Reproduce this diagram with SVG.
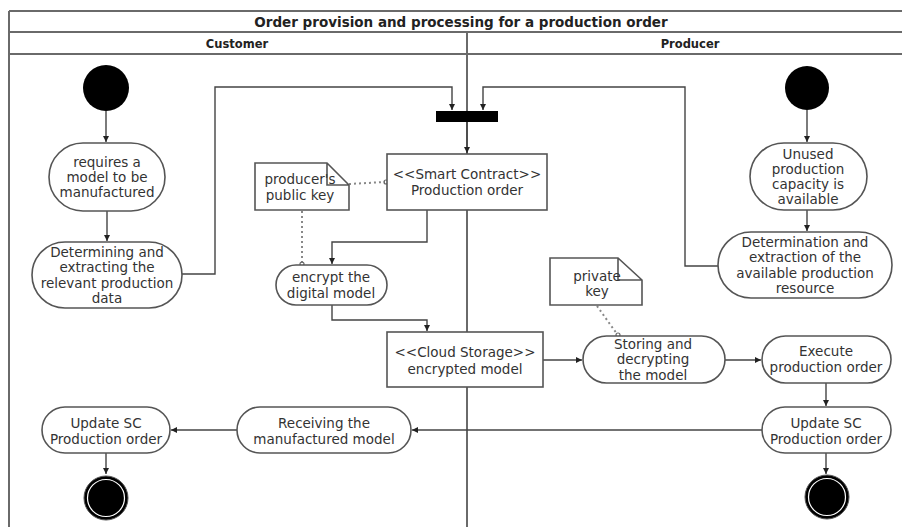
<svg xmlns="http://www.w3.org/2000/svg" width="902" height="527" viewBox="0 0 902 527">
<style>
.frame{fill:none;stroke:#6a6a6a;stroke-width:2}
.node{fill:#fff;stroke:#555;stroke-width:1.6}
.note{fill:#fff;stroke:#555;stroke-width:1.6;stroke-linejoin:miter}
.conn{fill:none;stroke:#444;stroke-width:1.4}
.dot{fill:none;stroke:#888;stroke-width:2;stroke-dasharray:2 3}
.t{font-family:"DejaVu Sans",Verdana,sans-serif;font-size:13.5px;fill:#333;text-anchor:middle}
.h{font-family:"DejaVu Sans",Verdana,sans-serif;font-weight:bold;fill:#222;text-anchor:middle}
</style>
<defs>
<marker id="arr" viewBox="0 0 8 8" refX="8" refY="4" markerWidth="6" markerHeight="6" orient="auto" markerUnits="userSpaceOnUse">
<path d="M0,0 L8,4 L0,8 z" fill="#222"/>
</marker>
</defs>
<rect width="902" height="527" fill="#fff"/>
<g id="frame">
<line class="frame" x1="9" y1="11" x2="902" y2="11"/>
<line class="frame" x1="9" y1="32" x2="902" y2="32"/>
<line class="frame" x1="9" y1="54" x2="902" y2="54"/>
<line class="frame" x1="9" y1="11" x2="9" y2="527"/>
<line class="frame" x1="467" y1="32" x2="467" y2="527" stroke-width="1.6"/>
<text class="h" x="461" y="27" font-size="13.5">Order provision and processing for a production order</text>
<text class="h" x="237" y="48" font-size="11.5">Customer</text>
<text class="h" x="690" y="48" font-size="11.5">Producer</text>
</g>
<g id="connectors">
<path class="conn" d="M106,111 V142" marker-end="url(#arr)"/>
<path class="conn" d="M107,211 V241" marker-end="url(#arr)"/>
<path class="conn" d="M182,274 H215 V87 H452 V110" marker-end="url(#arr)"/>
<path class="conn" d="M807,110 V142" marker-end="url(#arr)"/>
<path class="conn" d="M807,210 V231" marker-end="url(#arr)"/>
<path class="conn" d="M718,266 H685 V87 H483 V110" marker-end="url(#arr)"/>
<path class="conn" d="M467,122 V153" marker-end="url(#arr)"/>
<path class="conn" d="M427,210 V242 H332 V264" marker-end="url(#arr)"/>
<path class="conn" d="M332,305 V320 H427 V331" marker-end="url(#arr)"/>
<path class="conn" d="M543,360 H582" marker-end="url(#arr)"/>
<path class="conn" d="M725,360 H761" marker-end="url(#arr)"/>
<path class="conn" d="M826,383 V406" marker-end="url(#arr)"/>
<path class="conn" d="M826,453 V474" marker-end="url(#arr)"/>
<path class="conn" d="M762,430 H412" marker-end="url(#arr)"/>
<path class="conn" d="M237,430 H171" marker-end="url(#arr)"/>
<path class="conn" d="M106,453 V474" marker-end="url(#arr)"/>
<path class="dot" d="M349,184 L385,182"/>
<circle cx="386" cy="182" r="2" fill="none" stroke="#666" stroke-width="1.2"/>
<path class="dot" d="M302,211 V263"/>
<circle cx="302" cy="264" r="2" fill="none" stroke="#666" stroke-width="1.2"/>
<path class="dot" d="M597,306 L617,334"/>
<circle cx="618" cy="335" r="2" fill="none" stroke="#666" stroke-width="1.2"/>
</g>
<g id="start-customer"><circle cx="106" cy="88" r="23" fill="#000"/></g>
<g id="start-producer"><circle cx="807" cy="88" r="22" fill="#000"/></g>
<g id="bar"><rect x="436" y="111" width="62" height="11" fill="#000"/></g>
<g id="requires">
<rect class="node" x="49" y="143" width="116" height="68" rx="34" ry="34"/>
<text class="t" x="107" y="167">requires a</text>
<text class="t" x="107" y="182">model to be</text>
<text class="t" x="107" y="197">manufactured</text>
</g>
<g id="determining">
<rect class="node" x="32" y="242" width="150" height="66" rx="33" ry="33"/>
<text class="t" x="107" y="257">Determining and</text>
<text class="t" x="107" y="272">extracting the</text>
<text class="t" x="107" y="288">relevant production</text>
<text class="t" x="107" y="303">data</text>
</g>
<g id="unused">
<rect class="node" x="750" y="143" width="117" height="67" rx="34" ry="34"/>
<text class="t" x="808" y="159">Unused</text>
<text class="t" x="808" y="174">production</text>
<text class="t" x="808" y="189">capacity is</text>
<text class="t" x="808" y="204">available</text>
</g>
<g id="determination">
<rect class="node" x="718" y="232" width="174" height="66" rx="33" ry="33"/>
<text class="t" x="805" y="247">Determination and</text>
<text class="t" x="805" y="262">extraction of the</text>
<text class="t" x="805" y="278">available production</text>
<text class="t" x="805" y="293">resource</text>
</g>
<g id="smart-contract">
<rect class="node" x="387" y="154" width="160" height="56"/>
<text class="t" x="467" y="179">&lt;&lt;Smart Contract&gt;&gt;</text>
<text class="t" x="467" y="195">Production order</text>
</g>
<g id="public-key">
<path class="note" d="M255,163 H327 L349,185 V210 H255 Z M327,163 V185 H349"/>
<text class="t" x="300" y="184">producer's</text>
<text class="t" x="300" y="200">public key</text>
</g>
<g id="encrypt">
<rect class="node" x="276" y="265" width="111" height="40" rx="20" ry="20"/>
<text class="t" x="331" y="282">encrypt the</text>
<text class="t" x="331" y="298">digital model</text>
</g>
<g id="cloud-storage">
<rect class="node" x="387" y="332" width="156" height="55"/>
<text class="t" x="465" y="357">&lt;&lt;Cloud Storage&gt;&gt;</text>
<text class="t" x="465" y="374">encrypted model</text>
</g>
<g id="private-key">
<path class="note" d="M550,258 H618 L642,280 V305 H550 Z M618,258 V280 H642"/>
<text class="t" x="597" y="281">private</text>
<text class="t" x="597" y="296">key</text>
</g>
<g id="storing">
<rect class="node" x="583" y="336" width="142" height="47" rx="23.5" ry="23.5"/>
<text class="t" x="653" y="349">Storing and</text>
<text class="t" x="653" y="364">decrypting</text>
<text class="t" x="653" y="380">the model</text>
</g>
<g id="execute">
<rect class="node" x="762" y="336" width="129" height="47" rx="23.5" ry="23.5"/>
<text class="t" x="826" y="356">Execute</text>
<text class="t" x="826" y="372">production order</text>
</g>
<g id="update-producer">
<rect class="node" x="762" y="407" width="129" height="46" rx="23" ry="23"/>
<text class="t" x="826" y="428">Update SC</text>
<text class="t" x="826" y="444">Production order</text>
</g>
<g id="receiving">
<rect class="node" x="237" y="407" width="174" height="46" rx="23" ry="23"/>
<text class="t" x="324" y="428">Receiving the</text>
<text class="t" x="324" y="444">manufactured model</text>
</g>
<g id="update-customer">
<rect class="node" x="42" y="407" width="128" height="46" rx="23" ry="23"/>
<text class="t" x="106" y="428">Update SC</text>
<text class="t" x="106" y="444">Production order</text>
</g>
<g id="end-customer">
<circle cx="106" cy="498" r="22" fill="#000" stroke="#555" stroke-width="1"/>
<circle cx="106" cy="498" r="18.5" fill="none" stroke="#fff" stroke-width="1.2"/>
</g>
<g id="end-producer">
<circle cx="827" cy="497" r="22" fill="#000" stroke="#555" stroke-width="1"/>
<circle cx="827" cy="497" r="18.5" fill="none" stroke="#fff" stroke-width="1.2"/>
</g>
</svg>
